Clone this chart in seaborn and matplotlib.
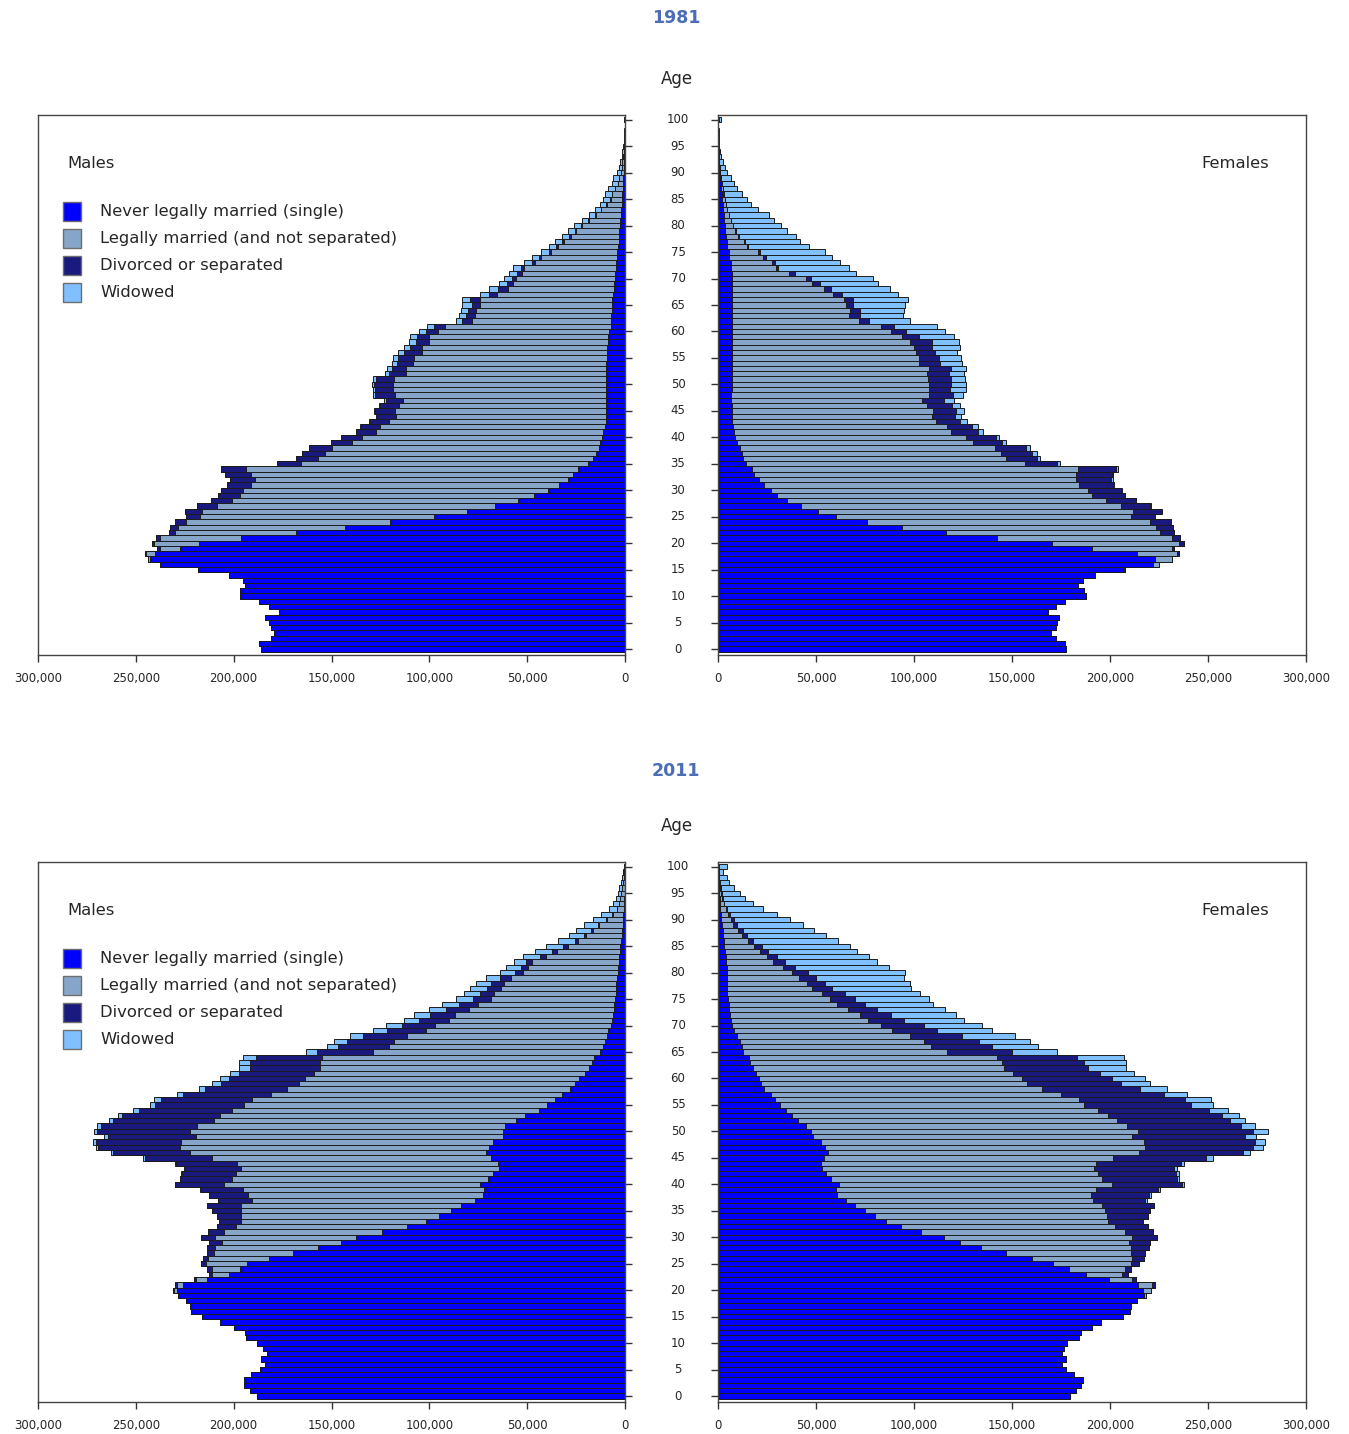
import numpy as np
import pandas as pd
import matplotlib.pyplot as plt
import matplotlib.transforms as mtransforms
from matplotlib.patches import Rectangle
from matplotlib.ticker import FuncFormatter
import seaborn as sns

sns.set_style('white')
plt.rcParams['font.family'] = ['DejaVu Sans']

# Ages 0 to 100 (100 = 100 and over), values in thousands of persons
ages = list(range(101))

# ---- 1981 males ----
m81_single = [186, 187, 181, 179.5, 181, 182, 184, 177, 182, 187,
              197, 197, 194, 195, 202.5, 218, 237.5, 242.7, 240.3, 227.6,
              217.6, 196, 168.1, 143.2, 120.1, 97.5, 80.9, 66.6, 54.8, 46.5,
              39.6, 33.8, 29, 26.4, 23.9, 18.7, 16.4, 14.9, 13.3, 12.9,
              12, 11, 10, 9.7, 9.7, 9.7, 9.7, 9.7, 9.7, 9.7,
              9.7, 9.6, 9.6, 9.6, 9.6, 9.1, 9.1, 9.1, 8.7, 8.7,
              8.1, 7.1, 7.1, 7.1, 6.7, 6.7, 6.7, 6.2, 5.8, 5.6,
              5.2, 5.2, 4.8, 4.6, 4.2, 3.9, 3.7, 3.3, 3.3, 2.9,
              2.7, 2.3, 2.1, 1.9, 1.7, 1.5, 1.3, 1.2, 0.9, 0.8,
              0.6, 0.5, 0.4, 0.3, 0.2, 0.15, 0.1, 0.07, 0.05, 0.03,
              0.1]
m81_married = [0] * 17 + [1.3, 4.6, 10.2,
               23.2, 41.9, 62, 85.5, 104.2, 119.7, 135.1, 141.9, 146.3, 150.2,
               155.6, 157.5, 160.2, 164.9, 169.9, 147.1, 140.3, 138.6, 136.7, 126.4,
               122.2, 116.2, 115.3, 111, 107.1, 108.1, 105.6, 103.7, 108.1, 108.7,
               108.7, 108.3, 102.5, 102.5, 98.7, 98.8, 94.6, 94.4, 91.5, 91.5,
               87.7, 84.8, 71.3, 69.4, 69.4, 67.4, 67.4, 59.2, 54, 51.6,
               50.5, 47.6, 46.6, 41.4, 38.5, 34.1, 30.4, 27.9, 24.3, 22,
               19.3, 16, 12.7, 10.2, 7.7, 5.8, 5.2, 3.9, 2.9, 2.5,
               1.6, 1.2, 1.0, 0.6, 0.5, 0.35, 0.25, 0.18, 0.1, 0.07,
               0.2]
m81_divorced = [0] * 18 + [0.3, 1.4,
                1.0, 1.7, 2.9, 3.7, 5.6, 7.1, 8.7, 10, 10.6, 11.2,
                11.4, 12.2, 12.9, 13.1, 12.7, 11.8, 11.4, 11.6, 11.6, 11,
                11, 10.2, 9.7, 9.6, 10, 10, 10, 9, 10.2, 9.6,
                9.8, 9.6, 8.3, 7.1, 8.3, 7.9, 9.2, 6.4, 6.7, 6.2,
                5.8, 5.8, 4.8, 4.8, 4.2, 4.2, 5.2, 3.9, 5.2, 2.9,
                1.9, 2.5, 2.0, 1.5, 1.0, 1.0, 1.0, 1.0, 0.8, 0.6,
                0.6, 0.4, 0.4, 0.4, 0.2, 0.2, 0.2, 0.2, 0, 0,
                0, 0, 0, 0, 0, 0, 0, 0, 0, 0,
                0]
m81_widowed = [0] * 40 + [0.2, 0.2, 0.3, 0.3, 0.4, 0.6, 0.6, 0.6, 0.8, 0.8,
               1.0, 1.3, 2.3, 2.5, 2.3, 2.7, 3.3, 3.3, 3.3, 3.5,
               3.5, 3.5, 3.3, 3.3, 3.5, 4.8, 4.2, 4.6, 4.6, 4.4,
               4.2, 4.0, 3.8, 3.9, 3.9, 4.0, 3.8, 3.8, 3.9, 3.5,
               3.5, 3.3, 3.0, 3.0, 3.3, 3.5, 3.3, 3.2, 3.0, 2.7,
               2.0, 1.6, 1.3, 0.8, 0.6, 0.5, 0.35, 0.25, 0.15, 0.1,
               0.2]

# ---- 1981 females ----
f81_single = [177.6, 177, 172.4, 170, 172.4, 173, 174, 168.6, 172.4, 177,
              187.6, 186.7, 183.8, 186, 192.6, 207.2, 222, 223, 213.6, 191,
              170.3, 142.4, 116.4, 94, 75.8, 60.2, 51.2, 42.2, 35.4, 30,
              27, 23.3, 20.8, 18.5, 17.3, 14.4, 12.7, 12.1, 11.2, 9.6,
              8.9, 8.3, 7.9, 7.3, 7.3, 7.3, 7.3, 6.7, 6.7, 7.3,
              7.3, 7.3, 7.3, 7.3, 7.3, 7.3, 6.9, 7.3, 7.3, 7.3,
              7.3, 7.3, 7.3, 6.9, 6.9, 6.9, 7.3, 7.3, 7.3, 7.3,
              7.3, 6.9, 6.4, 6.4, 5.4, 5.4, 4.6, 4.6, 4.0, 3.7,
              3.5, 3.1, 2.9, 2.7, 2.5, 2.2, 1.9, 1.6, 1.4, 1.1,
              0.8, 0.6, 0.4, 0.3, 0.2, 0.15, 0.1, 0.08, 0.05, 0.03,
              0.2]
f81_married = [0] * 15 + [0.3, 3, 8.5, 20.8, 40.4,
               64.7, 89.1, 109, 129.3, 144.7, 150.5, 160.7, 163.4, 162.4, 161,
               162, 161, 162, 164.4, 166.3, 142.2, 134.1, 132.2, 129.9, 120.5,
               117.4, 110.7, 108.7, 103.9, 102, 102.6, 99.5, 97.2, 101, 100.5,
               100.5, 100.0, 99.5, 100.5, 95.3, 95.3, 94.3, 92.8, 90.5, 86.6,
               81.2, 76, 64.5, 60, 60.4, 58.5, 56.8, 51.6, 46.6, 40.8,
               37.5, 29.3, 23.1, 21.2, 17.7, 15, 10, 8.9, 6.2, 5.2,
               4.2, 3.3, 2.5, 1.9, 1.5, 1.2, 0.9, 0.7, 0.5, 0.4,
               0.3, 0.2, 0.1, 0.1, 0.1, 0.05, 0.04, 0.02, 0.02, 0.01,
               0.1]
f81_divorced = [0] * 18 + [0.6, 1.2,
                2.7, 4.4, 7.1, 8.7, 10.6, 12.1, 14.2, 15, 15.4, 16.4,
                16.7, 17.3, 17.9, 17.9, 19.6, 16.5, 15.8, 16, 16, 14.8,
                15.4, 13.5, 12.9, 12.5, 11.5, 11.4, 12.5, 11.5, 12.1, 10.8,
                11.2, 11.4, 11.0, 11.2, 10.6, 10.2, 9.6, 9.2, 11.5, 8.7,
                7.3, 6.7, 5.2, 5.4, 5.4, 3.5, 4.8, 4.2, 3.9, 3.9,
                2.9, 2.9, 1.3, 1.3, 1.5, 0.8, 0.5, 0.4, 0.3, 0.3,
                0.2, 0.2, 0.1, 0.1, 0.1, 0.1, 0.1, 0, 0, 0,
                0, 0, 0, 0, 0, 0, 0, 0, 0, 0,
                0]
f81_widowed = [0] * 23 + [0.1, 0.1, 0.2, 0.2, 0.3, 0.3, 0.4,
               0.4, 0.5, 0.6, 0.7, 0.8, 1.2, 1.5, 2.3, 1.9, 1.9,
               1.7, 2.9, 2.9, 3.5, 3.1, 4.4, 4.2, 5, 5.2, 7.7,
               7.3, 7.5, 7.8, 7.3, 11.2, 11, 11, 14.4, 13.9, 17.9,
               20.2, 21.6, 20.8, 21.9, 22.1, 26.4, 27.9, 28.9, 30, 29.8,
               31.2, 31.4, 35.8, 33.3, 33.7, 33.3, 31.1, 27.7, 29.5, 26.2,
               24, 21.9, 20.7, 15.7, 12.9, 11.1, 9.1, 7.3, 6.4, 4.9,
               3.3, 2.7, 2, 1.1, 0.9, 0.5, 0.4, 0.3, 0.2, 0.12,
               1.0]

# ---- 2011 males ----
m11_single = [188, 191.7, 194.6, 194.6, 191, 186.5, 184, 186, 183, 185,
              188, 193.8, 194, 200, 207, 216, 222, 222.5, 224.6, 228,
              229.2, 225.9, 213.8, 202.3, 196.7, 193.1, 182.1, 169.6, 157.1, 145,
              137.5, 124, 111.5, 101.5, 95.2, 88.8, 83.6, 76.5, 72.5, 72.1,
              74, 69.8, 67.3, 64.4, 65, 68.3, 71.2, 69.6, 67.3, 62.5,
              62.5, 61.5, 55.6, 51.3, 43.7, 39.8, 36, 32.1, 27.9, 25.4,
              23.4, 20.5, 18.3, 17.1, 16, 12.6, 11.4, 10.1, 9.2, 8.7,
              7.1, 6.7, 6.3, 5.8, 5.4, 5, 4.8, 4.6, 4.4, 4.2,
              3.8, 3.6, 3.3, 3, 2.6, 2.3, 2, 1.7, 1.4, 1.2,
              1, 0.8, 0.5, 0.4, 0.3, 0.25, 0.2, 0.15, 0.1, 0.07,
              0.06]
m11_married = [0] * 19 + [0.3,
               1.5, 2.9, 5.4, 8.8, 14.4, 21.2, 30.8, 40.2, 52.3, 61.2,
               72.1, 80.8, 87.5, 94.6, 101, 107.3, 112.9, 114.2, 120.4, 123.1,
               130.8, 131.2, 131.7, 131.7, 133.5, 142.9, 151, 157.7, 159.6, 156.7,
               159.6, 157, 154.4, 155.8, 157.3, 154.8, 154.8, 149, 144.6, 141.3,
               140, 138.6, 137.7, 138.9, 138.7, 116, 109.2, 108, 102.4, 93.1,
               89.8, 83.1, 80.6, 74, 69.7, 63.3, 61.9, 58.6, 57.4, 54.3,
               48.3, 45.8, 44.1, 37.5, 32.1, 26.9, 22.2, 18.4, 15.1, 12,
               8.1, 5.5, 3.5, 2.65, 2, 1.55, 1.15, 0.75, 0.5, 0.3,
               0.2]
m11_divorced = [0] * 20 + [0.3, 1, 1, 1.3, 2.3, 2.5, 2.9, 4, 4.2, 6.2,
                7.3, 8.3, 9.6, 11.2, 12.5, 14.8, 16.9, 17.3, 19.6, 21.7,
                25, 26.3, 27.5, 28.8, 30.8, 34, 39.4, 41.9, 43.3, 45.2,
                47.5, 49.5, 51.9, 50, 47.5, 45.8, 46.2, 44.6, 42.3, 39.8,
                39.2, 38.4, 35.8, 35.8, 34.1, 28.7, 26.3, 24.2, 22.4, 19.8,
                17.3, 15.4, 13, 11.5, 9.5, 9.2, 7.3, 7.3, 6.5, 5.2,
                4, 3.5, 3, 3, 2.8, 2.5, 1.5, 1, 0.8, 0.6,
                0.5, 0.4, 0.2, 0.15, 0.1, 0.1, 0.05, 0.03, 0, 0,
                0]
m11_widowed = [0] * 39 + [0.2,
               0.3, 0.3, 0.4, 0.4, 0.5, 1, 1.3, 1.3, 1.5, 1.9,
               1.9, 2.1, 1.9, 1.9, 2.9, 2.3, 3.8, 3.5, 2.9, 4.4,
               4.6, 4.6, 5.6, 5.6, 6.3, 5.5, 5.6, 6.5, 6.8, 7.3,
               7.9, 7.7, 7.9, 8.7, 8.7, 9, 8.3, 8.5, 7.7, 7.3,
               7.7, 8.1, 6.3, 8.5, 8.3, 8.7, 8.5, 7.7, 7.7, 7,
               6.7, 5.8, 3.8, 3, 2.4, 1.9, 1.5, 1, 0.7, 0.45,
               0.35]

# ---- 2011 females ----
f11_single = [179.8, 182.7, 185.4, 186, 181.5, 177.6, 175.7, 177.6, 175.7, 176.7,
              178.2, 184.4, 185, 191, 195.6, 206.7, 210, 210.6, 213.9, 217.3,
              216.8, 214.5, 199.4, 187.5, 179.2, 171, 160, 147, 134.3, 123.3,
              115.2, 103.7, 93.4, 85.7, 80.3, 75.1, 69.7, 65.5, 60.7, 60.1,
              61.7, 57.8, 55, 53, 52.6, 54, 55.9, 54.5, 52.6, 48.7,
              47.6, 44.9, 41, 38, 34.7, 31.4, 28.9, 27, 23.7, 21.8,
              21, 19.3, 18.1, 16.4, 15.9, 12.8, 12.1, 11.3, 9.9, 8.1,
              7.1, 6.4, 6, 5.8, 5.8, 5.2, 4.8, 4.8, 4.8, 4.8,
              4.8, 4.4, 4, 3.9, 3.5, 3.3, 2.9, 2.5, 2.3, 1.9,
              1.5, 1.3, 1, 0.9, 0.8, 0.6, 0.5, 0.4, 0.3, 0.2,
              0.3]
f11_married = [0] * 19 + [1.3,
               4.2, 7.1, 12, 18.7, 28.3, 39.5, 51, 63.6, 76.3, 86.3,
               96.1, 103.9, 108.9, 113.3, 118.1, 122.4, 126.4, 125.6, 129.5, 132.6,
               139.1, 138.3, 139.1, 138.7, 140.1, 147.4, 159, 163.2, 164.5, 162.6,
               166.7, 163.6, 162.6, 161.1, 159.3, 155.1, 155.1, 147.8, 141.6, 135.8,
               134, 131.1, 127.8, 128.3, 126.6, 103.8, 96.4, 93.7, 88.2, 80.5,
               76.1, 70.3, 66.3, 60.3, 54.9, 52, 48.2, 43.4, 40.5, 36.6,
               32.8, 28.9, 23.9, 21.2, 17.7, 15, 12.5, 9.6, 7.9, 5.8,
               5.2, 3.9, 2.9, 2, 1.4, 1, 0.7, 0.4, 0.3, 0.2,
               0.3]
f11_divorced = [0] * 21 + [1.5, 1.9, 2.9, 3.1, 4.2, 6.2, 7.1, 9.1, 10.6,
                12.7, 14.1, 17.3, 17.7, 21.2, 23.1, 26.4, 26.6, 29.5, 31.8,
                35.8, 38, 39.5, 40.8, 43.4, 47.8, 53, 55.3, 56.8, 57.4,
                58.8, 58.4, 57.8, 58.2, 56.5, 54.9, 54.5, 52.6, 49.9, 48,
                46.1, 44.4, 42.8, 41.8, 40.6, 33.6, 31.1, 28.2, 26.6, 23.1,
                21.8, 18.3, 16, 14.8, 14.1, 12.7, 11.6, 10.2, 9.2, 8.7,
                8.1, 6.2, 6.4, 4.8, 4.4, 3.9, 2.5, 2.7, 2.3, 1.9,
                1.3, 1, 0.6, 0.4, 0.3, 0.2, 0.15, 0.1, 0.1, 0.05,
                0.1]
f11_widowed = [0] * 37 + [1, 1, 1,
               1, 1.3, 1.5, 1.9, 1.9, 3.3, 3.3, 5, 5.4, 5.8,
               7.3, 7.3, 7.3, 8.7, 9.6, 11, 12.9, 12.1, 14.1, 14.6,
               16.6, 17.4, 19.6, 21.7, 23.9, 22.7, 23.7, 25.9, 26.8, 28.3,
               29.9, 30.6, 33.1, 34.7, 35.1, 38, 38.5, 40.3, 43.7, 44.9,
               49.7, 47.8, 46.6, 47.2, 45.3, 44.9, 43.4, 40.1, 36.6, 33.7,
               28.5, 24.1, 18.3, 14.5, 11.5, 9.2, 7, 4.9, 4.1, 2.1,
               3.7]

statuses = ['single', 'married', 'divorced', 'widowed']
status_labels = ['Never legally married (single)', 'Legally married (and not separated)',
                 'Divorced or separated', 'Widowed']
colours = {'single': '#0000FF', 'married': '#87A5C8',
           'divorced': '#1A1A7E', 'widowed': '#80C0FF'}

W, H = 1349, 1434
fig = plt.figure(figsize=(W / 100, H / 100), dpi=100)


def add_axes_px(x0, y0, x1, y1):
    return fig.add_axes([x0 / W, 1 - y1 / H, (x1 - x0) / W, (y1 - y0) / H])


def draw_pyramid(ax, single, married, divorced, widowed, side):
    df = pd.DataFrame({'age': ages, 'single': single, 'married': married,
                       'divorced': divorced, 'widowed': widowed})
    for s in statuses:
        df[s] = df[s] * 1000
    cum = df[statuses].cumsum(axis=1)
    # stack by overdrawing cumulative totals from the outermost layer in
    for s in reversed(statuses):
        sns.barplot(x=cum[s], y=df['age'], orient='h', native_scale=True,
                    color=colours[s], saturation=1, edgecolor='#1c1c1c',
                    linewidth=0.7, width=1.0, errorbar=None, ax=ax)
    ax.set_ylim(-1.13, 100.9)
    ax.set_xlim((300000, 0) if side == 'left' else (0, 300000))
    ax.set_xticks(range(0, 300001, 50000))
    ax.xaxis.set_major_formatter(FuncFormatter(lambda v, p: f'{int(v):,}'))
    ax.set_yticks(range(0, 101, 5))
    ax.set_yticklabels([])
    ax.set_xlabel('')
    ax.set_ylabel('')
    ax.tick_params(axis='x', bottom=True, direction='out', length=5, width=1,
                   color='#333333', labelsize=8.5, pad=7)
    if side == 'left':
        ax.tick_params(axis='y', left=False, right=True, direction='out',
                       length=5, width=1, color='#333333')
    else:
        ax.tick_params(axis='y', left=True, right=False, direction='out',
                       length=5, width=1, color='#333333')
    for sp in ax.spines.values():
        sp.set_color('#444444')
        sp.set_linewidth(1)


def add_legend(ax):
    ax.text(0.0494, 0.911, 'Males', transform=ax.transAxes, ha='left',
            va='center', fontsize=11.8)
    ys = [0.8204, 0.7704, 0.7222, 0.6722]
    for s, lab, y in zip(statuses, status_labels, ys):
        ax.add_patch(Rectangle((0.0426, y - 0.0176), 0.0307, 0.0352,
                               transform=ax.transAxes, facecolor=colours[s],
                               edgecolor='#6e6e6e', linewidth=1, clip_on=False))
        ax.text(0.1056, y, lab, transform=ax.transAxes, ha='left',
                va='center', fontsize=11.8)


panels = [
    ('1981', 115, 655, 18, 79,
     (m81_single, m81_married, m81_divorced, m81_widowed),
     (f81_single, f81_married, f81_divorced, f81_widowed)),
    ('2011', 862, 1402, 771, 826,
     (m11_single, m11_married, m11_divorced, m11_widowed),
     (f11_single, f11_married, f11_divorced, f11_widowed)),
]

for year, top, bottom, title_y, age_y, males, females in panels:
    ax_m = add_axes_px(38, top, 625, bottom)
    ax_f = add_axes_px(718, top, 1306, bottom)
    draw_pyramid(ax_m, *males, side='left')
    draw_pyramid(ax_f, *females, side='right')
    add_legend(ax_m)
    ax_f.text(0.937, 0.911, 'Females', transform=ax_f.transAxes, ha='right',
              va='center', fontsize=11.8)

    fig.text(676 / W, 1 - title_y / H, year, ha='center', va='center',
             fontsize=12.5, fontweight='bold', color='#4A6DB5')
    fig.text(677 / W, 1 - age_y / H, 'Age', ha='center', va='center',
             fontsize=12)
    trans = mtransforms.blended_transform_factory(fig.transFigure, ax_f.transData)
    for a in range(0, 101, 5):
        fig.text(678 / W, a, str(a), transform=trans, ha='center',
                 va='center', fontsize=8.5)

fig.savefig('out.png', dpi=100)
